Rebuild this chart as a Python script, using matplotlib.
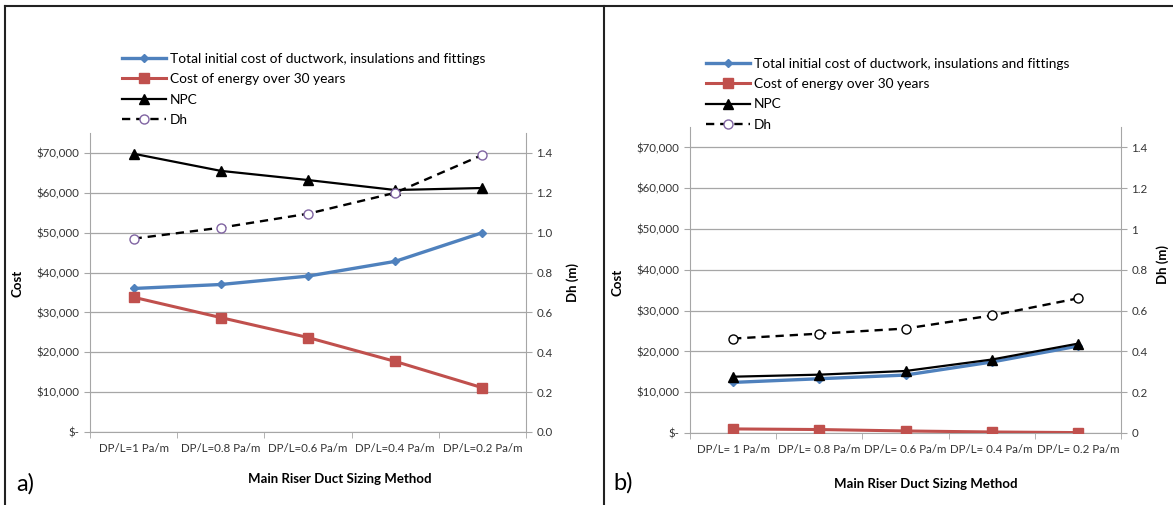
import matplotlib.pyplot as plt
from matplotlib.lines import Line2D
from matplotlib.ticker import FuncFormatter, FixedLocator

plt.rcParams["font.family"] = ["Lato", "DejaVu Sans"]

categories_a = ["DP/L=1 Pa/m", "DP/L=0.8 Pa/m", "DP/L=0.6 Pa/m", "DP/L=0.4 Pa/m", "DP/L=0.2 Pa/m"]
categories_b = ["DP/L= 1 Pa/m", "DP/L= 0.8 Pa/m", "DP/L= 0.6 Pa/m", "DP/L= 0.4 Pa/m", "DP/L= 0.2 Pa/m"]

# panel a
initial_a = [36000, 37000, 39100, 42800, 50000]
energy_a = [33800, 28700, 23700, 17700, 11100]
npc_a = [69800, 65500, 63200, 60700, 61200]
dh_a = [0.97, 1.025, 1.095, 1.20, 1.39]

# panel b
initial_b = [12400, 13300, 14200, 17400, 21300]
energy_b = [1000, 850, 500, 250, 100]
npc_b = [13800, 14300, 15200, 18000, 21900]
dh_b = [0.463, 0.487, 0.512, 0.576, 0.66]

labels = ["Total initial cost of ductwork, insulations and fittings",
          "Cost of energy over 30 years", "NPC", "Dh"]

blue = "#4F81BD"
red = "#C0504D"
purple = "#8064A2"
grid_c = "#A6A6A6"
W, H = 1173, 505

fig = plt.figure(figsize=(W / 100, H / 100), dpi=100)


def px(x, y):
    return x / W, 1 - y / H


def panel(rect, cats, initial, energy, npc, dh, dh_edge, right_fmt):
    ax = fig.add_axes(rect)
    x = range(len(cats))
    ax.plot(x, initial, color=blue, lw=2.4, marker="D", ms=4.5, zorder=3)
    ax.plot(x, energy, color=red, lw=2.2, marker="s", ms=7, zorder=3)
    ax.plot(x, npc, color="black", lw=1.6, marker="^", ms=7.5, zorder=4)
    ax.set_xlim(-0.5, len(cats) - 0.5)
    ax.set_ylim(0, 75000)
    ax.set_yticks(range(0, 70001, 10000))
    ax.yaxis.set_major_formatter(
        FuncFormatter(lambda v, p: "$-" if v == 0 else f"${v:,.0f}"))
    ax.set_xticks(list(x))
    ax.set_xticklabels(cats, fontsize=8.3, color="#333333")
    ax.tick_params(axis="x", which="major", length=0, pad=8)
    ax.xaxis.set_minor_locator(FixedLocator([i - 0.5 for i in range(len(cats) + 1)]))
    ax.tick_params(axis="x", which="minor", length=4, color=grid_c)
    ax.tick_params(axis="y", labelsize=8.3, labelcolor="#333333", length=4,
                   color=grid_c)
    ax.grid(axis="y", color=grid_c, lw=0.9)
    ax.set_axisbelow(True)
    for s in ["top", "right"]:
        ax.spines[s].set_visible(False)
    for s in ["left", "bottom"]:
        ax.spines[s].set_color(grid_c)

    ax2 = ax.twinx()
    ax2.plot(x, dh, color="black", lw=1.7, ls=(0, (3.5, 2.5)), marker="o",
             ms=6.5, mfc="white", mec=dh_edge, mew=1, zorder=3)
    ax2.set_ylim(0, 1.5)
    ax2.set_yticks([0, 0.2, 0.4, 0.6, 0.8, 1.0, 1.2, 1.4])
    ax2.yaxis.set_major_formatter(FuncFormatter(right_fmt))
    ax2.tick_params(axis="y", labelsize=8.3, labelcolor="#333333", length=4,
                    color=grid_c)
    for s in ["top", "left", "bottom"]:
        ax2.spines[s].set_visible(False)
    ax2.spines["right"].set_color(grid_c)
    return ax


rect_a = [90 / W, 1 - 432 / H, 436 / W, 299 / H]
rect_b = [690 / W, 1 - 433 / H, 431 / W, 306 / H]

panel(rect_a, categories_a, initial_a, energy_a, npc_a, dh_a, purple,
      lambda v, p: f"{v:.1f}")
panel(rect_b, categories_b, initial_b, energy_b, npc_b, dh_b, "black",
      lambda v, p: f"{v:g}")

handles = [
    Line2D([], [], color=blue, lw=2.4, marker="D", ms=4.5),
    Line2D([], [], color=red, lw=2.2, marker="s", ms=7),
    Line2D([], [], color="black", lw=1.6, marker="^", ms=7.5),
    Line2D([], [], color="black", lw=1.7, ls=(0, (3.5, 2.5)), marker="o",
           ms=6.5, mfc="white", mec=purple),
]
for lx, ly in [(122, 53), (706, 58)]:
    fig.legend(handles, labels, loc="upper left", bbox_to_anchor=px(lx, ly),
               frameon=False, fontsize=9.9, handlelength=3.2, handletextpad=0.3,
               labelspacing=0.6, borderaxespad=0, borderpad=0)

# axis titles
title_kw = dict(ha="center", va="center", fontsize=9.5, fontweight="bold")
fig.text(*px(18, 283), "Cost", rotation=90, **title_kw)
fig.text(*px(573, 282), "Dh (m)", rotation=90, **title_kw)
fig.text(*px(617, 282), "Cost", rotation=90, **title_kw)
fig.text(*px(1163, 264), "Dh (m)", rotation=90, **title_kw)
fig.text(*px(340, 479), "Main Riser Duct Sizing Method", **title_kw)
fig.text(*px(926, 484), "Main Riser Duct Sizing Method", **title_kw)
fig.text(*px(16, 484), "a)", ha="left", va="center", fontsize=17)
fig.text(*px(613, 483), "b)", ha="left", va="center", fontsize=17)

# frame lines
border = dict(color="#222222", lw=1.5, transform=fig.transFigure)
fig.add_artist(Line2D([5 / W, 1], [1 - 6 / H, 1 - 6 / H], **border))
fig.add_artist(Line2D([5 / W, 5 / W], [0, 1 - 6 / H], **border))
fig.add_artist(Line2D([603.5 / W, 603.5 / W], [0, 1 - 6 / H], **border))

fig.savefig("out.png", dpi=100)
